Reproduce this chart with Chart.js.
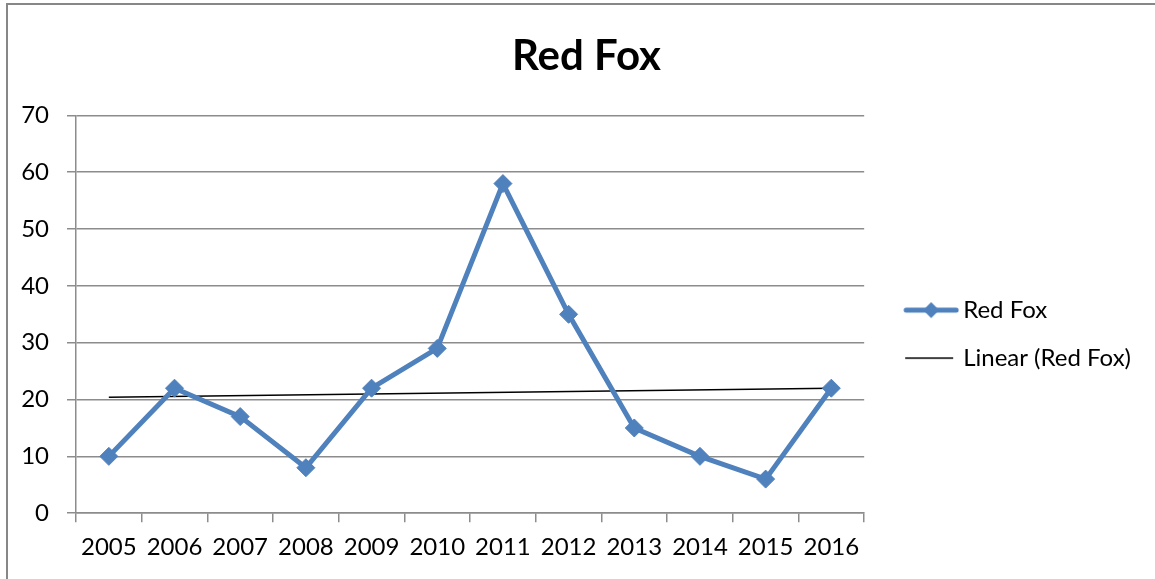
<!DOCTYPE html>
<html>
<head>
<meta charset="utf-8">
<script src="https://cdn.jsdelivr.net/npm/chart.js@4"></script>
<style>
  html, body { margin: 0; padding: 0; background: #fff; overflow: hidden; }
  #frame { position: absolute; left: 6px; top: 3px; width: 1200px; height: 640px; border: 2px solid #878787; }
  #wrap { position: absolute; left: 0; top: 0; width: 1155px; height: 579px; }
</style>
</head>
<body>
<div id="frame"></div>
<div id="wrap"><canvas id="myChart"></canvas></div>
<script>
// data
const years = ["2005", "2006", "2007", "2008", "2009", "2010", "2011", "2012", "2013", "2014", "2015", "2016"];
const redFox = [10, 22, 17, 8, 22, 29, 58, 35, 15, 10, 6, 22];
// trend line end points (Excel linear trendline), middle left empty
const trend = [20.4, null, null, null, null, null, null, null, null, null, null, 22.0];
const yTicks = [0, 10, 20, 30, 40, 50, 60, 70];

const blue = "#4F81BD";

// little pictures for the legend markers
function legendIcon(kind) {
  const c = document.createElement("canvas");
  c.width = 79;
  c.height = 20;
  const g = c.getContext("2d");
  if (kind === "series") {
    g.strokeStyle = blue;
    g.lineWidth = 5;
    g.lineCap = "round";
    g.beginPath();
    g.moveTo(26, 10);
    g.lineTo(76, 10);
    g.stroke();
    g.fillStyle = blue;
    g.beginPath();
    g.moveTo(51, 2);
    g.lineTo(59, 10);
    g.lineTo(51, 18);
    g.lineTo(43, 10);
    g.closePath();
    g.fill();
  } else {
    g.strokeStyle = "#000";
    g.lineWidth = 1.5;
    g.beginPath();
    g.moveTo(25, 10);
    g.lineTo(73, 10);
    g.stroke();
  }
  return c;
}
const icons = [legendIcon("series"), legendIcon("trend")];

// Excel centres the title on the whole chart object, a bit right of ours
const titleShift = {
  id: "titleShift",
  afterLayout(chart) {
    const t = chart.titleBlock;
    if (t) {
      t.left += 11;
      t.right += 11;
    }
  },
};

Chart.defaults.font.family = "Lato, 'Liberation Sans', sans-serif";
Chart.defaults.color = "#000";

const ctx = document.getElementById("myChart");
new Chart(ctx, {
  type: "line",
  data: {
    labels: years,
    datasets: [
      {
        label: "Red Fox",
        data: redFox,
        borderColor: blue,
        backgroundColor: blue,
        borderWidth: 5,
        pointStyle: "rectRot",
        pointRadius: 9,
        pointBorderWidth: 1,
        pointBackgroundColor: blue,
        pointBorderColor: blue,
        tension: 0,
      },
      {
        label: "Linear (Red Fox)",
        data: trend,
        borderColor: "#000",
        backgroundColor: "#000",
        borderWidth: 1.5,
        pointRadius: 0,
        spanGaps: true,
        tension: 0,
      },
    ],
  },
  plugins: [titleShift],
  options: {
    responsive: true,
    maintainAspectRatio: false,
    animation: false,
    layout: {
      padding: { left: 10, right: 14, top: 0, bottom: 6 },
    },
    scales: {
      x: {
        offset: true,
        grid: {
          display: true,
          offset: true,
          drawOnChartArea: false,
          drawTicks: true,
          tickLength: 9,
          color: "#8c8c8c",
          lineWidth: 1.5,
        },
        border: { display: true, color: "#8c8c8c", width: 1.5 },
        ticks: { font: { size: 24 }, padding: 11, maxRotation: 0, autoSkip: false },
      },
      y: {
        min: 0,
        max: 70,
        afterBuildTicks: (axis) => {
          axis.ticks = yTicks.map((v) => ({ value: v }));
        },
        afterFit: (axis) => {
          axis.width = 66;
        },
        grid: { color: "#8c8c8c", lineWidth: 1.5, tickLength: 9 },
        border: { display: true, color: "#8c8c8c", width: 1.5 },
        ticks: { font: { size: 24 }, padding: 18 },
      },
    },
    plugins: {
      title: {
        display: true,
        text: "Red Fox",
        font: { size: 42, weight: "bold" },
        color: "#000",
        padding: { top: 31, bottom: 34 },
      },
      legend: {
        position: "right",
        title: { display: true, text: " ", font: { size: 1 }, padding: { top: 47, bottom: 47 } },
        labels: {
          usePointStyle: true,
          pointStyleWidth: 63,
          padding: 24,
          font: { size: 24 },
          color: "#000",
          generateLabels: (chart) =>
            chart.data.datasets.map((ds, i) => ({
              text: ds.label,
              pointStyle: icons[i],
              datasetIndex: i,
              fontColor: "#000",
              lineWidth: 0,
              strokeStyle: "transparent",
              fillStyle: "transparent",
            })),
        },
      },
      tooltip: { enabled: false },
    },
  },
});
</script>
</body>
</html>
